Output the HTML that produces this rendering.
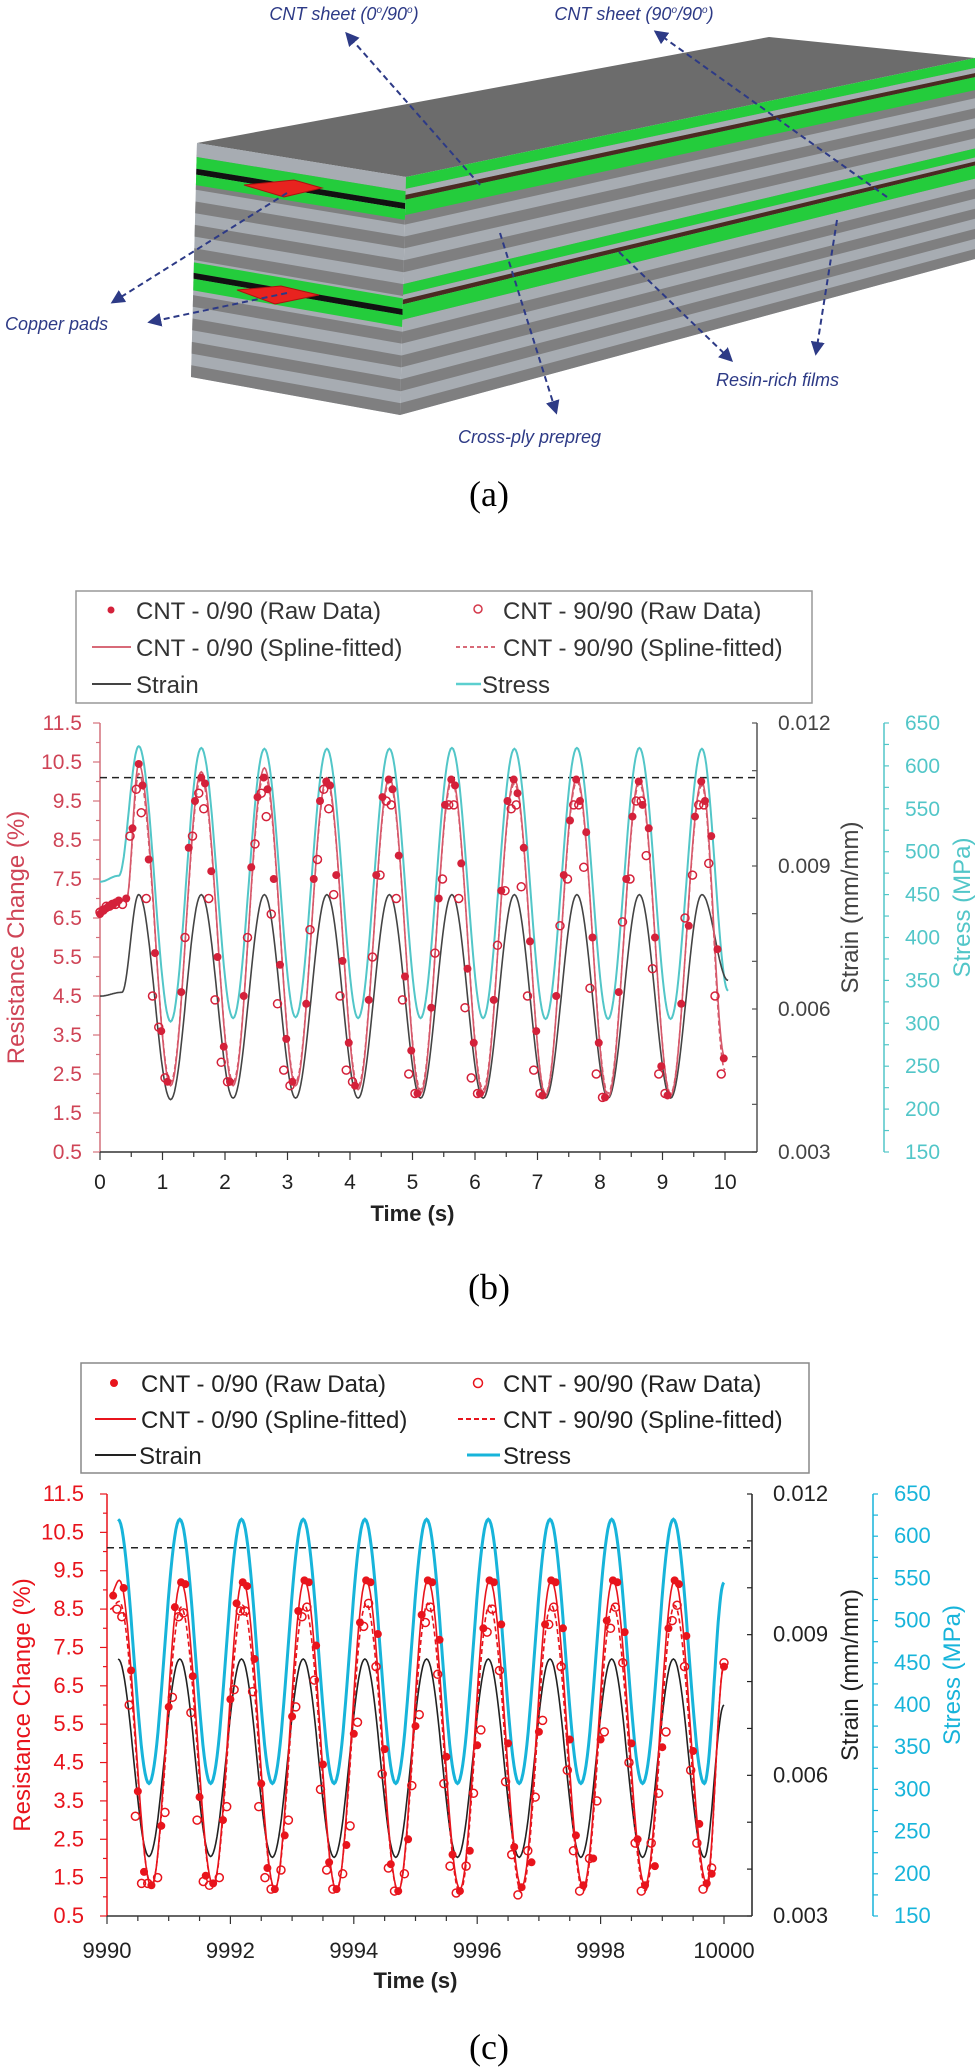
<!DOCTYPE html>
<html><head><meta charset="utf-8"><style>
html,body{margin:0;padding:0;background:#fff;}
svg{display:block;font-family:"Liberation Sans",Arial,sans-serif;}
.cap{font-family:"Liberation Serif",serif;font-size:36px;}
.ann{font-style:italic;fill:#2d3a86;font-size:18px;}
</style></head><body>
<svg id="fig" width="975" height="2069" viewBox="0 0 975 2069" xmlns="http://www.w3.org/2000/svg">
<defs>
<marker id="ah" viewBox="0 0 10 10" refX="8" refY="5" markerWidth="7" markerHeight="7" orient="auto-start-reverse"><path d="M0,0 L10,5 L0,10 z" fill="#2d3a86"/></marker>
</defs>
<g id="schem">
<polygon points="197,143 769,37 975,58 406,177" fill="#6c6c6c"/>
<g id="front"></g>
<g id="side"></g>
<polygon points="244,185 294,180 322,188 284,197" fill="#e8231f" stroke="#b01010" stroke-width="1"/>
<polygon points="237,290 281,286 319,295 275,304" fill="#e8231f" stroke="#b01010" stroke-width="1"/>
<g fill="none" stroke="#2d3a86" stroke-width="2" stroke-dasharray="6,4" marker-end="url(#ah)">
<line x1="480" y1="185" x2="347" y2="34"/>
<line x1="887" y1="197" x2="656" y2="32"/>
<line x1="287" y1="193" x2="113" y2="302"/>
<line x1="287" y1="293" x2="150" y2="322"/>
<line x1="619" y1="252" x2="731" y2="360"/>
<line x1="837" y1="220" x2="816" y2="353"/>
<line x1="500" y1="233" x2="556" y2="412"/>
</g>
<text class="ann" x="344" y="20" text-anchor="middle">CNT sheet (0<tspan font-size="10" dy="-7">o</tspan><tspan dy="7">/90</tspan><tspan font-size="10" dy="-7">o</tspan><tspan dy="7">)</tspan></text>
<text class="ann" x="634" y="20" text-anchor="middle">CNT sheet (90<tspan font-size="10" dy="-7">o</tspan><tspan dy="7">/90</tspan><tspan font-size="10" dy="-7">o</tspan><tspan dy="7">)</tspan></text>
<text class="ann" x="5" y="330" font-size="19">Copper pads</text>
<text class="ann" x="716" y="386" font-size="19">Resin-rich films</text>
<text class="ann" x="458" y="443" font-size="19">Cross-ply prepreg</text>
</g>
<text class="cap" x="489" y="506" text-anchor="middle">(a)</text>
<text class="cap" x="489" y="1299" text-anchor="middle">(b)</text>
<text class="cap" x="489" y="2059" text-anchor="middle">(c)</text>

<g id="legendB" font-size="24" fill="#333">
<rect x="76" y="591" width="736" height="112" fill="#fff" stroke="#999" stroke-width="1.5"/>
<circle cx="111" cy="610" r="3.5" fill="#d4213a"/>
<text x="136" y="619">CNT - 0/90 (Raw Data)</text>
<circle cx="478" cy="609" r="4" fill="none" stroke="#d4384a" stroke-width="1.5"/>
<text x="503" y="619">CNT - 90/90 (Raw Data)</text>
<line x1="92" y1="647" x2="131" y2="647" stroke="#d86a78" stroke-width="2"/>
<text x="136" y="656">CNT - 0/90 (Spline-fitted)</text>
<line x1="456" y1="647" x2="497" y2="647" stroke="#d86a78" stroke-width="2" stroke-dasharray="4,3"/>
<text x="503" y="656">CNT - 90/90 (Spline-fitted)</text>
<line x1="92" y1="684" x2="131" y2="684" stroke="#444" stroke-width="2"/>
<text x="136" y="693">Strain</text>
<line x1="456" y1="684" x2="481" y2="684" stroke="#5ccfcf" stroke-width="2.5"/>
<text x="482" y="693">Stress</text>
</g>

<g id="legendC" font-size="24" fill="#222">
<rect x="81" y="1363" width="728" height="110" fill="#fff" stroke="#888" stroke-width="1.5"/>
<circle cx="114" cy="1383" r="4" fill="#e8141c"/>
<text x="141" y="1392">CNT - 0/90 (Raw Data)</text>
<circle cx="478" cy="1383" r="4.5" fill="none" stroke="#e8141c" stroke-width="1.5"/>
<text x="503" y="1392">CNT - 90/90 (Raw Data)</text>
<line x1="95" y1="1419" x2="136" y2="1419" stroke="#e8141c" stroke-width="2"/>
<text x="141" y="1428">CNT - 0/90 (Spline-fitted)</text>
<line x1="458" y1="1419" x2="498" y2="1419" stroke="#e8141c" stroke-width="2" stroke-dasharray="5,3"/>
<text x="503" y="1428">CNT - 90/90 (Spline-fitted)</text>
<line x1="95" y1="1455" x2="136" y2="1455" stroke="#222" stroke-width="2"/>
<text x="139" y="1464">Strain</text>
<line x1="467" y1="1455" x2="500" y2="1455" stroke="#17b4da" stroke-width="3"/>
<text x="503" y="1464">Stress</text>
</g>
<g id="chartB"></g>
<g id="chartC"></g>
</svg>
<script>
// ---------- Chart (b) data ----------
const bStressT = [0,0.3,0.62,1.13,1.62,2.13,2.63,3.13,3.63,4.13,4.63,5.13,5.63,6.13,6.63,7.13,7.63,8.13,8.63,9.13,9.63,10.05];
const bStress = [465,472,623,302,621,306,620,307,620,306,620,306,621,306,620,305,621,305,621,305,620,338];
const bStrainT = [0,0.35,0.62,1.13,1.62,2.13,2.63,3.13,3.63,4.13,4.63,5.13,5.63,6.13,6.63,7.13,7.63,8.13,8.63,9.13,9.63,10.05];
const bStrain = [0.00627,0.00635,0.0084,0.0041,0.0084,0.00413,0.0084,0.00413,0.0084,0.00413,0.0084,0.00413,0.0084,0.00413,0.0084,0.00413,0.0084,0.00413,0.0084,0.00413,0.0084,0.0066];
const bResT = [0,0.42,0.62,1.13,1.62,2.13,2.63,3.13,3.63,4.13,4.63,5.13,5.63,6.13,6.63,7.13,7.63,8.13,8.63,9.13,9.63,10.0];
const bRes090 = [6.7,6.95,10.45,2.2,10.25,2.2,10.35,2.2,10.1,2.1,10.1,2.0,10.1,2.0,10.05,1.95,10.1,1.9,10.05,1.95,10.0,2.9];
const bRes9090 = [6.75,6.95,10.2,2.3,10.1,2.3,10.2,2.3,10.0,2.2,10.0,2.1,10.0,2.1,9.95,2.0,10.0,2.0,9.95,2.0,9.9,2.6];
const bPreT = [0.0,0.05,0.1,0.15,0.2,0.25];
const bPre090 = [6.6,6.7,6.75,6.8,6.85,6.9];
const bPre9090 = [6.65,6.7,6.8,6.8,6.85,6.85];
const bPeakT = [0.62,1.62,2.62,3.62,4.62,5.62,6.62,7.62,8.62,9.62];
const bOffF = [-0.32,-0.2,-0.1,0,0.06,0.16,0.26,0.36,0.46];
const bOffO = [-0.26,-0.14,-0.04,0.04,0.12,0.22,0.32,0.42];
const bRaw090 = [
 [6.95,7.0,8.8,10.45,9.9,8.0,5.6,3.6,2.3],
 [4.6,8.3,9.5,10.1,9.95,7.7,5.5,3.2,2.3],
 [4.5,7.8,9.6,10.1,9.8,7.5,5.3,3.4,2.3],
 [4.3,7.5,9.5,10.0,9.9,7.6,5.4,3.3,2.2],
 [4.4,7.6,9.6,10.05,9.8,8.1,5.0,3.1,2.0],
 [4.2,7.0,9.4,10.05,9.9,7.9,5.2,3.3,2.0],
 [4.4,7.2,9.5,10.05,9.7,8.3,5.9,3.6,1.95],
 [4.5,7.6,9.0,10.05,9.5,8.7,6.0,3.3,1.9],
 [4.6,7.5,9.1,10.0,9.4,8.8,6.0,2.7,1.95],
 [4.3,6.3,9.1,10.0,9.5,8.6,5.7,2.9]];
const bRaw9090 = [
 [6.85,8.6,9.8,9.2,7.0,4.5,3.7,2.4],
 [6.0,8.6,9.7,9.3,7.0,4.4,2.8,2.3],
 [6.0,8.4,9.7,9.1,6.6,4.3,2.6,2.2],
 [6.2,8.0,9.8,9.3,7.1,4.5,2.6,2.3],
 [5.5,7.6,9.5,9.4,7.0,4.4,2.5,2.0],
 [5.6,7.5,9.4,9.4,7.0,4.2,2.4,2.0],
 [5.8,7.2,9.3,9.4,7.3,4.5,2.6,2.0],
 [6.3,7.5,9.4,9.4,7.8,4.7,2.5,1.9],
 [6.4,7.5,9.5,9.5,8.1,5.2,2.5,2.0],
 [6.5,7.6,9.4,9.4,7.9,4.5,2.5]];
const bResTicks = ['0.5','1.5','2.5','3.5','4.5','5.5','6.5','7.5','8.5','9.5','10.5','11.5'];
const bStrainTicks = ['0.003','0.006','0.009','0.012'];
const bStressTicks = ['150','200','250','300','350','400','450','500','550','600','650'];
const bTimeTicks = ['0','1','2','3','4','5','6','7','8','9','10'];
const bThreshold = [10.1];

// ---------- Chart (c) data ----------
const cWaveT = [9990.18,9990.68,9991.18,9991.68,9992.18,9992.68,9993.18,9993.68,9994.18,9994.68,9995.18,9995.68,9996.18,9996.68,9997.18,9997.68,9998.18,9998.68,9999.18,9999.68,10000];
const cStress = [620,307,620,307,620,307,620,307,620,307,620,307,620,307,620,307,620,307,620,307,545];
const cStrain = [0.00848,0.00427,0.00848,0.00427,0.00848,0.00425,0.00848,0.00425,0.00848,0.00425,0.00848,0.00425,0.00848,0.00425,0.00848,0.00425,0.00848,0.00425,0.00848,0.00425,0.0075];
const cResT = [9990.05,9990.2,9990.72,9991.2,9991.72,9992.2,9992.72,9993.2,9993.72,9994.2,9994.72,9995.2,9995.72,9996.2,9996.72,9997.2,9997.72,9998.2,9998.72,9999.2,9999.72,10000];
const cRes090 = [8.85,9.25,1.25,9.2,1.3,9.25,1.2,9.25,1.15,9.25,1.15,9.25,1.2,9.25,1.25,9.25,1.25,9.25,1.3,9.25,1.35,7.0];
const cRes9090 = [8.5,8.7,1.3,8.55,1.3,8.6,1.2,8.6,1.2,8.65,1.15,8.65,1.1,8.6,1.1,8.6,1.15,8.6,1.15,8.6,1.2,7.05];
const cPeakT = [9990.2,9991.2,9992.2,9993.2,9994.2,9995.2,9996.2,9997.2,9998.2,9999.2];
const cOffF = [-0.32,-0.2,-0.1,0,0.07,0.19,0.3,0.4,0.52];
const cOffO = [-0.38,-0.26,-0.14,-0.04,0.04,0.16,0.26,0.36,0.46];
const cRaw090 = [
 [null,null,8.85,null,9.05,6.9,3.75,1.65,1.3],
 [2.85,5.95,8.55,9.2,9.15,6.75,3.6,1.55,1.35],
 [3.0,6.15,8.65,9.2,9.1,7.2,3.95,1.75,1.2],
 [2.6,5.7,8.45,9.25,9.2,7.55,4.45,1.9,1.2],
 [2.35,5.25,8.15,9.25,9.2,7.85,4.85,1.85,1.15],
 [2.5,5.45,8.35,9.25,9.2,7.7,4.65,2.1,1.15],
 [2.2,4.95,8.0,9.25,9.2,8.1,5.0,2.3,1.25],
 [1.9,5.3,8.1,9.25,9.2,8.0,5.1,2.6,1.3],
 [2.0,5.1,8.2,9.25,9.2,7.9,5.0,2.5,1.3],
 [1.8,4.9,8.0,9.25,9.15,7.8,4.8,2.9,1.35]];
const cRaw9090 = [
 [null,null,null,8.5,8.3,6.0,3.1,1.35,1.35],
 [1.5,3.2,6.2,8.3,8.4,5.8,3.0,1.4,1.3],
 [1.5,3.35,6.4,8.45,8.45,6.35,3.35,1.5,1.2],
 [1.7,3.0,5.95,8.3,8.55,6.65,3.8,1.7,1.2],
 [1.6,2.85,5.55,8.05,8.65,7.0,4.2,1.75,1.15],
 [1.6,3.9,5.75,8.15,8.55,6.8,3.95,1.8,1.1],
 [1.8,3.7,5.35,7.9,8.5,6.9,4.0,2.1,1.05],
 [2.2,3.6,5.6,8.1,8.55,7.0,4.3,2.2,1.15],
 [2.0,3.5,5.3,8.0,8.55,7.1,4.5,2.4,1.15],
 [2.4,3.7,5.3,8.2,8.6,7.0,4.3,2.4,1.2]];
const cTailT = [9999.8,10000];
const cTail090 = [1.6,7.0];
const cTail9090 = [1.75,7.1];
const cTimeTicks = ['9990','9992','9994','9996','9998','10000'];
const cThreshold = [10.1];

const NS = 'http://www.w3.org/2000/svg';
function el(tag, attrs, parent){
  const e = document.createElementNS(NS, tag);
  for (const k in attrs) e.setAttribute(k, attrs[k]);
  parent.appendChild(e);
  return e;
}

// ---------- schematic stripes ----------
function lerp(a,b,f){return [a[0]+(b[0]-a[0])*f, a[1]+(b[1]-a[1])*f];}
function band(g, L0,L1,R0,R1,a,b,color,name){
  const p1=lerp(L0,L1,a), p2=lerp(R0,R1,a), p3=lerp(R0,R1,b), p4=lerp(L0,L1,b);
  const poly = el('polygon',{points:[p1,p2,p3,p4].map(p=>p.join(',')).join(' '),fill:color},g);
  
  
}
function face(gid, L0,L1,R0,R1, special){
  const g=document.getElementById(gid);
  band(g,L0,L1,R0,R1,0,1,'#a7acb2','ply-light');
  for(let i=0;i<10;i++){ band(g,L0,L1,R0,R1,i*0.1+0.05,i*0.1+0.1,'#7f7f80','ply-dark'); }
  special.forEach(s=>band(g,L0,L1,R0,R1,s[0],s[1],s[2],s[3]));
}
face('front',[197,143],[191,377],[406,177],[400,415],[
 [0,0.06,'#a7acb2','ply-light'],[0.06,0.11,'#24cc3c','cnt-sheet-green'],[0.11,0.135,'#111','cnt-sheet-black'],[0.135,0.18,'#24cc3c','cnt-sheet-green'],
 [0.51,0.555,'#24cc3c','cnt-sheet-green'],[0.555,0.58,'#111','cnt-sheet-black'],[0.58,0.63,'#24cc3c','cnt-sheet-green']]);
face('side',[406,177],[400,415],[975,58],[975,259],[
 [0,0.05,'#24cc3c','resin-film-green'],[0.05,0.075,'#a7acb2','ply-light'],[0.075,0.095,'#4a2a22','cnt-sheet-brown'],[0.095,0.16,'#24cc3c','resin-film-green'],
 [0.45,0.495,'#24cc3c','resin-film-green'],[0.495,0.515,'#a7acb2','ply-light'],[0.515,0.535,'#4a2a22','cnt-sheet-brown'],[0.535,0.6,'#24cc3c','resin-film-green']]);

// ---------- chart helpers ----------
function curve(ts, vs, xf, yf){
  let d='';
  for(let i=0;i<ts.length-1;i++){
    const N=24;
    for(let j=(i===0?0:1);j<=N;j++){
      const f=j/N, t=ts[i]+(ts[i+1]-ts[i])*f;
      const v=vs[i]+(vs[i+1]-vs[i])*(1-Math.cos(Math.PI*f))/2;
      d+=(d?'L':'M')+xf(t).toFixed(1)+','+yf(v).toFixed(1);
    }
  }
  return d;
}
function txt(g, x, y, s, attrs, name){
  const t = el('text', Object.assign({x:x,y:y}, attrs), g);
  t.textContent = s;
  
  
  return t;
}
function line(g,x1,y1,x2,y2,stroke,sw,name){
  const l=el('line',{x1:x1,y1:y1,x2:x2,y2:y2,stroke:stroke,'stroke-width':sw},g);
  
  
  return l;
}

function drawChart(cfg){
  const g=document.getElementById(cfg.id);
  const {x0,x1,t0,t1,yTop,yBot,axR,axS} = cfg;
  const xf=t=>x0+(t-t0)/(t1-t0)*(x1-x0);
  const yR=v=>yTop+(11.5-v)/11*(yBot-yTop);
  const yE=s=>yBot-(s-0.003)/0.009*(yBot-yTop);
  const yS=p=>yBot-(p-150)/500*(yBot-yTop);
  const C=cfg.col;
  line(g,x0,yTop,x0,yBot,C.axis,1.5,'resistance-axis-line');
  for(let i=0;i<=22;i++){
    const v=0.5+i*0.5, major=(i%2===0);
    line(g,x0-(major?7:4),yR(v),x0,yR(v),C.axis,1.2,major?'resistance-major-tick':'resistance-minor-tick');
  }
  cfg.resTicks.forEach(s=>{
    txt(g,cfg.resLabelX,yR(parseFloat(s))+7,s,{'text-anchor':'end','font-size':cfg.fs,fill:C.resText},'resistance-tick-label');
  });
  line(g,axR,yTop,axR,yBot,C.strainAxis,1.5,'strain-axis-line');
  for(let i=0;i<=9;i++){
    const s=0.003+i*0.001;
    line(g,axR-5,yE(s),axR,yE(s),C.strainAxis,1.2,'strain-tick');
  }
  cfg.strainTicks.forEach(s=>{
    txt(g,axR+21,yE(parseFloat(s))+7,s,{'font-size':cfg.fs,fill:C.strainText},'strain-tick-label');
  });
  line(g,axS,yTop,axS,yBot,C.stress,1.5,'stress-axis-line');
  for(let i=0;i<=20;i++){
    const p=150+i*25;
    line(g,axS,yS(p),axS+5,yS(p),C.stress,1.2,'stress-tick');
  }
  cfg.stressTicks.forEach(s=>{
    txt(g,axS+21,yS(parseFloat(s))+7,s,{'font-size':cfg.fs,fill:C.stress},'stress-tick-label');
  });
  line(g,x0,yBot,axR,yBot,'#333',1.5,'time-axis-line');
  const nMinor=Math.round((t1-t0)/0.5);
  for(let i=0;i<=nMinor;i++){
    const t=t0+i*0.5, major=(Math.abs(t-Math.round(t/cfg.majorStep)*cfg.majorStep)<1e-6);
    line(g,xf(t),yBot,xf(t),yBot+(major?8:5),'#333',1.2,major?'time-major-tick':'time-minor-tick');
  }
  cfg.timeTicks.forEach(s=>{
    txt(g,xf(parseFloat(s)),cfg.xLabelY,s,{'text-anchor':'middle','font-size':cfg.fs,fill:'#222'},'time-tick-label');
  });
  txt(g,0,0,'Resistance Change (%)',{'text-anchor':'middle','font-size':24,fill:C.resText,transform:`translate(${cfg.resTitleX},${(yTop+yBot)/2}) rotate(-90)`},'resistance-axis-title');
  txt(g,0,0,'Strain (mm/mm)',{'text-anchor':'middle','font-size':24,fill:C.strainText,transform:`translate(${cfg.strainTitleX},${(yTop+yBot)/2-30}) rotate(-90)`},'strain-axis-title');
  txt(g,0,0,'Stress (MPa)',{'text-anchor':'middle','font-size':24,fill:C.stress,transform:`translate(${cfg.stressTitleX},${(yTop+yBot)/2-30}) rotate(-90)`},'stress-axis-title');
  txt(g,(x0+x1)/2,cfg.timeTitleY,'Time (s)',{'text-anchor':'middle','font-size':22,'font-weight':'bold',fill:'#222'},'time-axis-title');
  const th=line(g,x0,yR(cfg.threshold[0]),axR,yR(cfg.threshold[0]),'#222',1.5,'threshold-line');
  th.setAttribute('stroke-dasharray','7,5');
  const ps=el('path',{d:curve(cfg.stressT,cfg.stress,xf,yS),fill:'none',stroke:C.stress,'stroke-width':cfg.stressW},g);
  
  
  const pe=el('path',{d:curve(cfg.strainT,cfg.strain,xf,yE),fill:'none',stroke:C.strainLine,'stroke-width':1.6},g);
  
  
  const p2=el('path',{d:curve(cfg.resT,cfg.res9090,xf,yR),fill:'none',stroke:C.spline,'stroke-width':1.6,'stroke-dasharray':'5,3'},g);
  
  
  const p1=el('path',{d:curve(cfg.resT,cfg.res090,xf,yR),fill:'none',stroke:C.spline,'stroke-width':1.6},g);
  
  
  const openPt=(t,v)=>{
    if(v===null||t>t1+0.02) return;
    const c=el('circle',{cx:xf(t),cy:yR(v),r:4,fill:'none',stroke:C.raw,'stroke-width':1.5},g);
    
    
  };
  const fillPt=(t,v)=>{
    if(v===null||t>t1+0.02) return;
    const c=el('circle',{cx:xf(t),cy:yR(v),r:4,fill:C.raw},g);
    
    
  };
  cfg.preT.forEach((t,i)=>{openPt(t,cfg.pre9090[i]);});
  cfg.peakT.forEach((pk,k)=>{cfg.raw9090[k].forEach((v,j)=>openPt(pk+cfg.offO[j],v));});
  cfg.tailT.forEach((t,i)=>openPt(t,cfg.tail9090[i]));
  cfg.preT.forEach((t,i)=>{fillPt(t,cfg.pre090[i]);});
  cfg.peakT.forEach((pk,k)=>{cfg.raw090[k].forEach((v,j)=>fillPt(pk+cfg.offF[j],v));});
  cfg.tailT.forEach((t,i)=>fillPt(t,cfg.tail090[i]));
}

drawChart({id:'chartB',x0:100,x1:725,t0:0,t1:10,yTop:723,yBot:1152,axR:757,axS:884,
  col:{axis:'#d4707c',resText:'#cf4456',strainAxis:'#555',strainText:'#444',stress:'#52c6c8',strainLine:'#444',spline:'#d6586a',raw:'#d4213a'},
  fs:21,resLabelX:82,xLabelY:1189,resTitleX:24,strainTitleX:858,stressTitleX:970,timeTitleY:1221,majorStep:1,stressW:2,
  resTicks:bResTicks,strainTicks:bStrainTicks,stressTicks:bStressTicks,timeTicks:bTimeTicks,threshold:bThreshold,
  stressT:bStressT,stress:bStress,strainT:bStrainT,strain:bStrain,resT:bResT,res090:bRes090,res9090:bRes9090,
  preT:bPreT,pre090:bPre090,pre9090:bPre9090,peakT:bPeakT,offF:bOffF,offO:bOffO,raw090:bRaw090,raw9090:bRaw9090,
  tailT:[],tail090:[],tail9090:[]});

drawChart({id:'chartC',x0:107,x1:724,t0:9990,t1:10000,yTop:1494,yBot:1916,axR:752,axS:873,
  col:{axis:'#e8141c',resText:'#e8141c',strainAxis:'#222',strainText:'#222',stress:'#17b4da',strainLine:'#222',spline:'#e8141c',raw:'#e8141c'},
  fs:22,resLabelX:84,xLabelY:1958,resTitleX:30,strainTitleX:858,stressTitleX:960,timeTitleY:1988,majorStep:2,stressW:3,
  resTicks:bResTicks,strainTicks:bStrainTicks,stressTicks:bStressTicks,timeTicks:cTimeTicks,threshold:cThreshold,
  stressT:cWaveT,stress:cStress,strainT:cWaveT,strain:cStrain,resT:cResT,res090:cRes090,res9090:cRes9090,
  preT:[],pre090:[],pre9090:[],peakT:cPeakT,offF:cOffF,offO:cOffO,raw090:cRaw090,raw9090:cRaw9090,
  tailT:cTailT,tail090:cTail090,tail9090:cTail9090});
</script>
</body></html>
